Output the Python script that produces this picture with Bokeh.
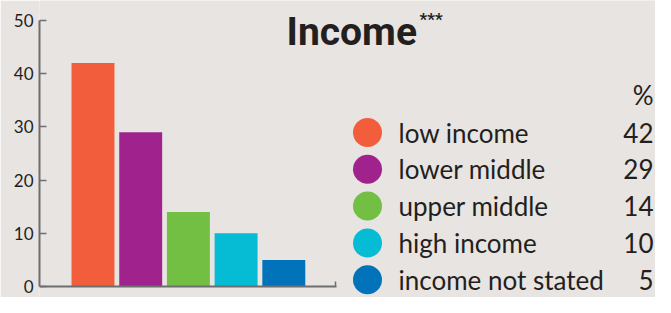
from bokeh.plotting import figure
from bokeh.models import Range1d, FixedTicker, ColumnDataSource
from bokeh.core.properties import value
from bokeh.embed import file_html
from bokeh.resources import INLINE

# ---- data ----
categories = ["low income", "lower middle", "upper middle", "high income", "income not stated"]
percent = [42, 29, 14, 10, 5]
colors = ["#f25e3b", "#a0228c", "#72bf44", "#05bcd4", "#0073bb"]
y_ticks = [0, 10, 20, 30, 40, 50]
title_text = "Income"
title_note = "***"
value_header = "%"

# ---- layout constants ----
W, H = 655, 297
BG = "#e8e4e1"
INK = "#231f20"
AXIS = "#6d6e70"
FRAME_LEFT = 39          # figure px of y axis
Y0_PX = 286              # figure px of y = 0
Y50_PX = 20              # figure px of y = 50
PY = (Y0_PX - Y50_PX) / 50.0
Y_START = -(H - Y0_PX) / PY
Y_END = Y0_PX / PY
STEP = 47.7              # px per bar step
X_START = -(92.5 - FRAME_LEFT) / STEP
X_END = X_START + (W - FRAME_LEFT) / STEP


def fx(px):   # figure px -> x data
    return X_START + (px - FRAME_LEFT) / STEP


def fy(px):   # figure px (from top) -> y data
    return (Y0_PX - px) / PY


p = figure(width=W, height=H, output_backend="svg", toolbar_location=None,
           x_range=Range1d(X_START, X_END), y_range=Range1d(Y_START, Y_END),
           min_border_left=FRAME_LEFT, min_border_right=0, min_border_top=0,
           min_border_bottom=0)
p.title.visible = False
p.background_fill_color = BG
p.border_fill_color = BG
p.outline_line_color = None
p.grid.visible = False

# bars
src = ColumnDataSource(dict(x=list(range(len(categories))), top=percent, color=colors,
                            cat=categories))
p.vbar(x="x", top="top", bottom=0, width=0.9, color="color", line_color=None, source=src)

# y axis
ya = p.yaxis[0]
ya.ticker = FixedTicker(ticks=y_ticks)
ya.bounds = (0, 50)
ya.major_tick_in = 7
ya.major_tick_out = 0
ya.minor_tick_in = 0
ya.minor_tick_out = 0
ya.axis_line_color = AXIS
ya.axis_line_width = 2
ya.major_tick_line_color = AXIS
ya.major_tick_line_width = 1.5
ya.major_label_standoff = 6
ya.major_label_text_font = "Lato"
ya.major_label_text_font_size = "17px"
ya.major_label_text_color = INK

# x axis (baseline at y = 0), end tick as a minor tick (no label)
xa = p.xaxis[0]
x_axis_end = fx(336)
xa.fixed_location = 0
xa.ticker = FixedTicker(ticks=[], minor_ticks=[fx(335)])
xa.bounds = (X_START, x_axis_end)
xa.major_tick_in = 0
xa.major_tick_out = 0
xa.minor_tick_in = 5
xa.minor_tick_out = 0
xa.axis_line_color = AXIS
xa.axis_line_width = 2
xa.minor_tick_line_color = AXIS
xa.minor_tick_line_width = 1.5
xa.major_label_standoff = 0

# title
p.text(x=[fx(286)], y=[fy(31)], text=[title_text], text_font=value("Roboto"),
       text_font_style="bold", text_font_size="39px", text_color=INK,
       text_baseline="alphabetic", text_align="left")
p.text(x=[fx(419)], y=[fy(8)], text=[title_note], text_font=value("Roboto"),
       text_font_style="bold", text_font_size="17px", text_color=INK,
       text_baseline="top", text_align="left")

# legend
row0, row_gap = 132, 36.8
rows_y = [fy(row0 + i * row_gap) for i in range(len(categories))]
p.scatter(x=[fx(367)] * len(categories), y=rows_y, size=29, color=colors, line_color=None)
p.text(x=[fx(398)] * len(categories), y=rows_y, text=categories, text_font=value("Lato"),
       text_font_size="26px", text_color=INK, text_baseline="middle", text_align="left")
p.text(x=[fx(653)] * len(categories), y=rows_y, text=[str(v) for v in percent],
       text_font=value("Lato"), text_font_size="26px", text_color=INK,
       text_baseline="middle", text_align="right")
p.text(x=[fx(653)], y=[fy(94)], text=[value_header], text_font=value("Lato"),
       text_font_size="26px", text_color=INK, text_baseline="middle", text_align="right")

open("out.html", "w").write(file_html(p, INLINE))
